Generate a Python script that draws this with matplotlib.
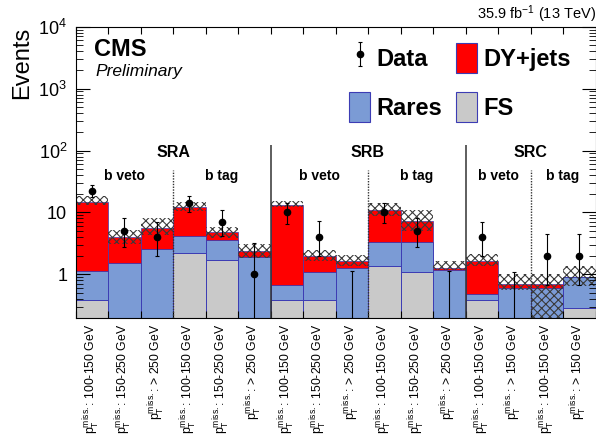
import numpy as np
import matplotlib
matplotlib.use("Agg")
import matplotlib.pyplot as plt
from matplotlib.patches import Patch

plt.rcParams['font.family'] = 'Liberation Sans'
plt.rcParams['mathtext.fontset'] = 'custom'
plt.rcParams['mathtext.rm'] = 'Liberation Sans'
plt.rcParams['mathtext.it'] = 'Liberation Sans:italic'
plt.rcParams['mathtext.bf'] = 'Liberation Sans:bold'
plt.rcParams['hatch.linewidth'] = 0.8

# Bin labels (16 signal-region bins)
pt = r'$\mathrm{p_{T}^{miss.}}$:'
bin_labels = [
    pt + ' 100-150 GeV', pt + ' 150-250 GeV', pt + ' > 250 GeV',
    pt + ' 100-150 GeV', pt + ' 150-250 GeV', pt + ' > 250 GeV',
    pt + ' 100-150 GeV', pt + ' 150-250 GeV', pt + ' > 250 GeV',
    pt + ' 100-150 GeV', pt + ' 150-250 GeV', pt + ' > 250 GeV',
    pt + ' 100-150 GeV', pt + ' > 150 GeV',
    pt + ' 100-150 GeV', pt + ' > 150 GeV',
]

# Background components
fs     = [0.385, 0.0, 0.0, 2.24, 1.68, 0.0, 0.385, 0.385, 0.0, 1.36, 1.09, 0.0, 0.385, 0.0, 0.0, 0.29]
rares  = [0.77, 1.54, 2.6, 1.9, 1.9, 1.9, 0.30, 0.70, 1.28, 2.0, 2.28, 1.17, 0.10, 0.61, 0.61, 0.61]
dyjets = [13.4, 2.5, 3.1, 8.25, 1.2, 0.48, 12.7, 0.88, 0.36, 7.5, 3.9, 0.11, 1.15, 0.10, 0.10, 0.0]

# Total background uncertainty band
unc_hi = [18.3, 5.3, 8.2, 14.6, 5.8, 3.1, 15.6, 2.47, 2.03, 14.0, 10.9, 1.64, 2.1, 1.0, 1.0, 1.36]
unc_lo = [13.4, 3.05, 4.4, 10.5, 3.9, 1.85, 12.3, 1.64, 1.36, 8.7, 5.0, 1.2, 1.36, 0.55, 0.1, 0.65]

# Observed data with interval ends
data    = [22, 5, 4, 14, 7, 1, 10, 4, 0, 10, 5, 0, 4, 0, 2, 2]
data_hi = [28.3, 8.2, 7.1, 18.3, 10.9, 3.25, 14.0, 7.25, 1.13, 14.0, 8.2, 1.13, 7.1, 1.09, 4.5, 4.5]
data_lo = [17.6, 2.8, 1.97, 10.1, 4.15, 0.17, 6.6, 1.97, 0.0, 6.8, 2.8, 0.0, 1.97, 0.0, 0.68, 0.68]

regions = ['SRA', 'SRB', 'SRC']
region_edges = [(0, 6), (6, 12), (12, 16)]
sub_labels = ['b veto', 'b tag', 'b veto', 'b tag', 'b veto', 'b tag']
sub_edges = [(0, 3), (3, 6), (6, 9), (9, 12), (12, 14), (14, 16)]

c_dy = '#ff0000'
c_rares = '#7b9bd5'
c_fs = '#c9c9c9'
c_edge = '#3c3cb4'

fig = plt.figure(figsize=(5.96, 4.38), dpi=100)
ax = fig.add_axes([75.5 / 596, 1 - 317.7 / 438, 520 / 596, 291 / 438])

x = np.arange(len(data))
floor = 1e-3
fs_a = np.array(fs)
rares_top = fs_a + np.array(rares)
dy_top = rares_top + np.array(dyjets)

ax.bar(x, np.maximum(fs_a, floor) - floor, bottom=floor, width=1, align='edge',
       color=c_fs, edgecolor=c_edge, linewidth=0.7)
ax.bar(x, rares_top - np.maximum(fs_a, floor), bottom=np.maximum(fs_a, floor), width=1, align='edge',
       color=c_rares, edgecolor=c_edge, linewidth=0.7)
ax.bar(x, dy_top - rares_top, bottom=rares_top, width=1, align='edge',
       color=c_dy, edgecolor=c_edge, linewidth=0.5)

# uncertainty band
ax.bar(x, np.array(unc_hi) - np.array(unc_lo), bottom=unc_lo, width=1, align='edge',
       facecolor='none', edgecolor='#3a3a3a', linewidth=0, hatch='xxxx')

# data
d = np.array(data, dtype=float)
yd = np.where(d > 0, d, floor)
yerr = [yd - np.maximum(np.array(data_lo), floor * 0.5), np.array(data_hi) - yd]
eb = ax.errorbar(x + 0.5, yd, yerr=yerr, fmt='o', color='black', markersize=4.5,
                 elinewidth=0.8, capsize=1.3, capthick=0.8, zorder=5)

# separators
ax.vlines([6, 12], 0.2, 125, colors='#333333', linewidth=1.1, zorder=4)
ax.vlines([3, 9, 14], 0.2, 49, colors='#333333', linewidth=1.0, linestyles=(0, (1, 1)), zorder=4)

for name, (a, b) in zip(regions, region_edges):
    ax.text((a + b) / 2, 93, name, ha='center', va='center', fontsize=11.5, fontweight='bold')
for name, (a, b) in zip(sub_labels, sub_edges):
    ax.text((a + b) / 2, 39.5, name, ha='center', va='center', fontsize=10, fontweight='bold')

ax.set_yscale('log')
ax.set_ylim(0.2, 1e4)
ax.set_xlim(0, 16)

ax.set_xticks(np.arange(17))
ax.set_xticklabels([])
ax.set_xticks(x + 0.5, bin_labels, minor=True, rotation=90, fontsize=8.8)
ax.tick_params(axis='x', which='major', direction='in', length=5, width=0.8, top=True)
ax.tick_params(axis='x', which='minor', length=0, pad=4)

ax.set_yticks([1, 10, 100, 1000, 10000])
ax.set_yticklabels(['1', '10', r'$10^{2}$', r'$10^{3}$', r'$10^{4}$'], fontsize=13)
ax.tick_params(axis='y', which='major', direction='in', length=10, width=0.8, right=True, pad=6)
ax.tick_params(axis='y', which='minor', direction='in', length=5, width=0.6, right=True)
ax.set_ylabel('Events', loc='top', fontsize=17)

ax.text(0.0356, 0.899, 'CMS', transform=ax.transAxes, fontsize=17, fontweight='bold', va='baseline')
ax.text(0.039, 0.831, 'Preliminary', transform=ax.transAxes, fontsize=12.5, style='italic', va='baseline')
ax.text(1.0, 1.028, r'35.9 fb$^{-1}$ (13 TeV)', transform=ax.transAxes, fontsize=10.5,
        ha='right', va='baseline')

handles = [eb,
           Patch(facecolor=c_rares, edgecolor=c_edge, linewidth=0.8),
           Patch(facecolor=c_dy, edgecolor=c_edge, linewidth=0.8),
           Patch(facecolor=c_fs, edgecolor=c_edge, linewidth=0.8)]
ax.legend(handles, ['Data', 'Rares', 'DY+jets', 'FS'], ncol=2, frameon=False,
          prop={'weight': 'bold', 'size': 17}, handlelength=0.9, handleheight=1.6,
          handletextpad=0.25, columnspacing=0.6, labelspacing=0.8, borderpad=0,
          borderaxespad=0, loc='upper left', bbox_to_anchor=(0.526, 0.945))

fig.savefig('out.png', dpi=100)
